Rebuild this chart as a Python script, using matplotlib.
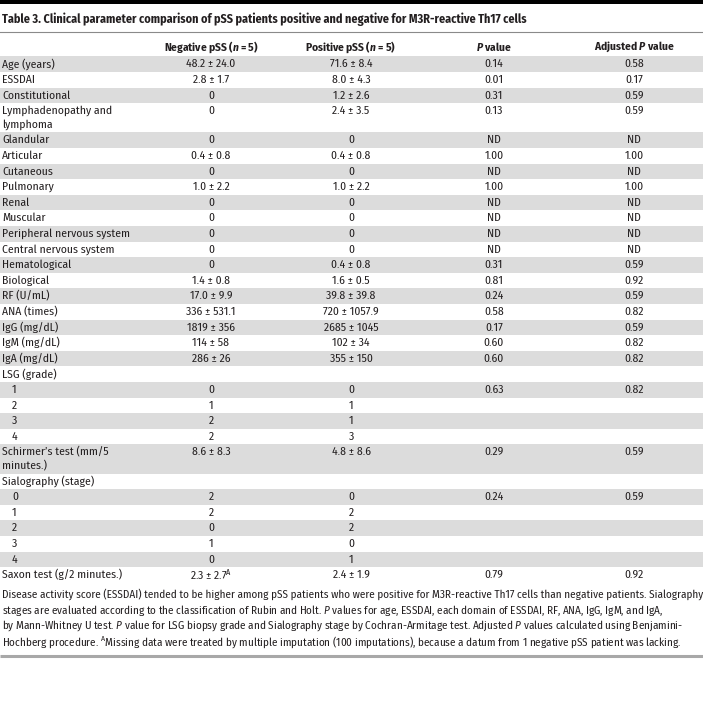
import matplotlib
matplotlib.use("Agg")
import matplotlib.pyplot as plt

row_labels = ["Age (years)", "ESSDAI", "Constitutional", "Lymphadenopathy and\nlymphoma",
              "Glandular", "Articular", "Cutaneous", "Pulmonary", "Renal", "Muscular",
              "Peripheral nervous system", "Central nervous system", "Hematological",
              "Biological", "RF (U/mL)", "ANA (times)", "IgG (mg/dL)", "IgM (mg/dL)",
              "IgA (mg/dL)", "LSG (grade)", "1", "2", "3", "4",
              "Schirmer\u2019s test (mm/5\nminutes.)", "Sialography (stage)",
              "0", "1", "2", "3", "4", "Saxon test (g/2 minutes.)"]
negative = ["48.2 \u00b1 24.0", "2.8 \u00b1 1.7", "0", "0", "0", "0.4 \u00b1 0.8", "0",
            "1.0 \u00b1 2.2", "0", "0", "0", "0", "0", "1.4 \u00b1 0.8", "17.0 \u00b1 9.9",
            "336 \u00b1 531.1", "1819 \u00b1 356", "114 \u00b1 58", "286 \u00b1 26", "",
            "0", "1", "2", "2", "8.6 \u00b1 8.3", "", "2", "2", "0", "1", "0",
            "2.3 \u00b1 2.7$^{\\mathregular{A}}$"]
positive = ["71.6 \u00b1 8.4", "8.0 \u00b1 4.3", "1.2 \u00b1 2.6", "2.4 \u00b1 3.5", "0",
            "0.4 \u00b1 0.8", "0", "1.0 \u00b1 2.2", "0", "0", "0", "0", "0.4 \u00b1 0.8",
            "1.6 \u00b1 0.5", "39.8 \u00b1 39.8", "720 \u00b1 1057.9", "2685 \u00b1 1045",
            "102 \u00b1 34", "355 \u00b1 150", "", "0", "1", "1", "3", "4.8 \u00b1 8.6", "",
            "0", "2", "2", "0", "1", "2.4 \u00b1 1.9"]
p_values = ["0.14", "0.01", "0.31", "0.13", "ND", "1.00", "ND", "1.00", "ND", "ND", "ND",
            "ND", "0.31", "0.81", "0.24", "0.58", "0.17", "0.60", "0.60", "", "0.63", "", "",
            "", "0.29", "", "0.24", "", "", "", "", "0.79"]
adj_p_values = ["0.58", "0.17", "0.59", "0.59", "ND", "1.00", "ND", "1.00", "ND", "ND",
                "ND", "ND", "0.59", "0.92", "0.59", "0.82", "0.59", "0.82", "0.82", "",
                "0.82", "", "", "", "0.59", "", "0.59", "", "", "", "", "0.92"]
headers = ["Negative pSS ($\\mathbfit{n}$ = 5)", "Positive pSS ($\\mathbfit{n}$ = 5)",
           "$\\mathbfit{P}$ value", "Adjusted $\\mathbfit{P}$ value"]
title = ("Table 3. Clinical parameter comparison of pSS patients positive and negative "
         "for M3R-reactive Th17 cells")
footnote = [
    "Disease activity score (ESSDAI) tended to be higher among pSS patients who were "
    "positive for M3R-reactive Th17 cells than negative patients. Sialography",
    "stages are evaluated according to the classification of Rubin and Holt. "
    "$\\mathit{P}$ values for age, ESSDAI, each domain of ESSDAI, RF, ANA, IgG, IgM, and IgA,",
    "by Mann-Whitney U test. $\\mathit{P}$ value for LSG biopsy grade and Sialography stage "
    "by Cochran-Armitage test. Adjusted $\\mathit{P}$ values calculated using Benjamini-",
    "Hochberg procedure. $^{\\mathregular{A}}$Missing data were treated by multiple imputation "
    "(100 imputations), because a datum from 1 negative pSS patient was lacking.",
]

FONT = "Fira Sans Condensed"
plt.rcParams["font.family"] = [FONT, "DejaVu Sans"]
plt.rcParams["mathtext.fontset"] = "custom"
plt.rcParams["mathtext.rm"] = FONT
plt.rcParams["mathtext.it"] = FONT + ":italic"
plt.rcParams["mathtext.bf"] = FONT + ":bold"
plt.rcParams["mathtext.bfit"] = FONT + ":italic:bold"

INK = "#231f20"
BAND = "#dcdcdc"
ROW_H = 15.6
LINE_H = 13.6
TOP = 56.4
col_x = [211, 351, 494, 634]

fig = plt.figure(figsize=(7.03, 7.13), dpi=100)
ax = fig.add_axes([0, 0, 1, 1])
ax.set_xlim(0, 703)
ax.set_ylim(713, 0)
ax.axis("off")

# top bar and rules
ax.axhspan(0, 4, color="black", lw=0)
ax.plot([0, 703], [32, 32], color="#8a8a8a", lw=0.8)
ax.plot([0, 703], [656, 656], color="#a8a8a8", lw=2.2, solid_capstyle="butt")

ax.text(2, 19, title, fontsize=8.7, fontweight="bold", color=INK, va="center", ha="left")
for x, h in zip(col_x, headers):
    ax.text(x, 47, h, fontsize=8.2, fontweight="bold", color=INK, va="center", ha="center")

y = TOP
for i, lab in enumerate(row_labels):
    lines = lab.split("\n")
    height = ROW_H + LINE_H * (len(lines) - 1)
    if i % 2 == 0:
        ax.barh(y + height / 2, 703, height=height, left=0, color=BAND, lw=0)
    cy = y + ROW_H / 2
    indent = 12 if lab.isdigit() else 2
    for k, ln in enumerate(lines):
        ax.text(indent, cy + k * LINE_H, ln, fontsize=8.35, color=INK, va="center", ha="left")
    for x, v in zip(col_x, [negative[i], positive[i], p_values[i], adj_p_values[i]]):
        if v:
            ax.text(x, cy, v, fontsize=8.35, color=INK, va="center", ha="center")
    y += height

for k, ln in enumerate(footnote):
    ax.text(2, 594 + 16 * k, ln, fontsize=8.0, color=INK, va="center", ha="left")

fig.savefig("out.png", dpi=100)
